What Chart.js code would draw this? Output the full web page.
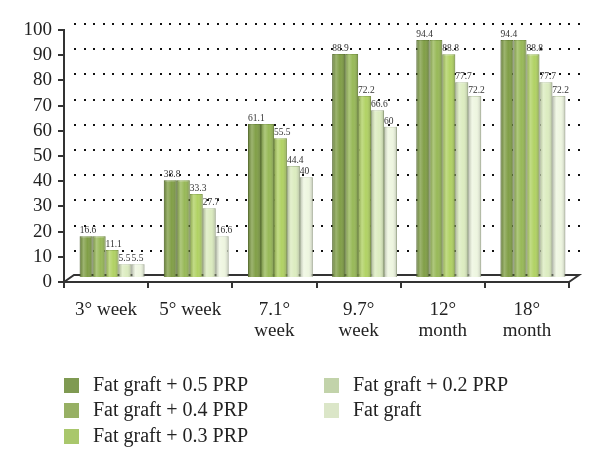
<!DOCTYPE html>
<html>
<head>
<meta charset="utf-8">
<script src="https://cdn.jsdelivr.net/npm/chart.js@4"></script>
<style>
body{margin:0;background:#fff;}
#wrap{position:relative;width:600px;height:472px;}
#legend{position:absolute;left:0;top:0;font-family:"Liberation Serif",serif;font-size:20px;color:#222;}
.item{position:absolute;white-space:nowrap;line-height:22px;}
.box{position:absolute;width:15px;height:15px;}
</style>
</head>
<body>
<div id="wrap">
<canvas id="chart" width="600" height="472"></canvas>
<div id="legend"></div>
</div>
<script>
const labels=[["3° week"],["5° week"],["7.1°","week"],["9.7°","week"],["12°","month"],["18°","month"]];
const prp05=[16.6,38.8,61.1,88.9,94.4,94.4];
const prp04=[16.6,38.8,61.1,88.9,94.4,94.4];
const prp03=[11.1,33.3,55.5,72.2,88.8,88.8];
const prp02=[5.5,27.7,44.4,66.6,77.7,77.7];
const fatGraft=[5.5,16.6,40,60,72.2,72.2];
const names=["Fat graft + 0.5 PRP","Fat graft + 0.4 PRP","Fat graft + 0.3 PRP","Fat graft + 0.2 PRP","Fat graft"];
const barColors=["#819f47","#98b958","#b1d264","#dcecc0","#eef6e0"];
const edgeColors=["#6e8a3a","#82a148","#95b553","#b7c99c","#c9d6b6"];
const legendColors=["#7f9a52","#97b064","#a9c76c","#c2d3aa","#dbe6c8"];
const showLabel=[true,false,true,true,true];
const serif='"Liberation Serif", serif';

// back wall grid, floor, 3D-ish shading of the bars and value labels
const depth={
  id:"depth",
  beforeDatasetsDraw(chart){
    const {ctx,chartArea:a,scales:{y}}=chart;
    ctx.save();
    ctx.fillStyle="#111";
    y.ticks.forEach(t=>{
      if(t.value===0)return;
      const py=Math.round(y.getPixelForValue(t.value))-7;
      for(let x=a.left+10;x<=a.right+12;x+=9.5){
        ctx.fillRect(Math.round(x),py,2,2);
      }
    });
    const y0=y.getPixelForValue(0);
    ctx.strokeStyle="#333";
    ctx.lineWidth=2;
    ctx.beginPath();
    ctx.moveTo(a.left,y0);
    ctx.lineTo(a.left+10,y0-7);
    ctx.lineTo(a.right+10,y0-7);
    ctx.lineTo(a.right,y0);
    ctx.stroke();
    ctx.restore();
    ctx.save();
    ctx.translate(6,-4);
  },
  afterDatasetsDraw(chart){
    const ctx=chart.ctx;
    const metas=chart.data.datasets.map((ds,di)=>chart.getDatasetMeta(di));
    metas.forEach(meta=>{
      meta.data.forEach(bar=>{
        const l=bar.x-bar.width/2,w=bar.width,h=bar.base-bar.y;
        const g=ctx.createLinearGradient(l,0,l+w,0);
        g.addColorStop(0,"rgba(0,0,0,0.22)");
        g.addColorStop(0.3,"rgba(255,255,255,0.22)");
        g.addColorStop(0.6,"rgba(255,255,255,0)");
        g.addColorStop(1,"rgba(0,0,0,0.22)");
        ctx.fillStyle=g;
        ctx.fillRect(l,bar.y,w,h);
      });
    });
    ctx.fillStyle="#333";
    ctx.font="9.5px "+serif;
    ctx.textAlign="left";
    ctx.textBaseline="alphabetic";
    metas.forEach((meta,di)=>{
      if(!showLabel[di])return;
      meta.data.forEach((bar,i)=>{
        ctx.fillText(String(chart.data.datasets[di].data[i]),bar.x-bar.width/2,bar.y-3);
      });
    });
    ctx.restore();
  }
};

const series=[prp05,prp04,prp03,prp02,fatGraft];
new Chart(document.getElementById("chart"),{
  type:"bar",
  data:{
    labels:labels,
    datasets:series.map((d,i)=>({
      label:names[i],
      data:d,
      backgroundColor:barColors[i],
      borderColor:edgeColors[i],
      borderWidth:1,
      categoryPercentage:0.77,
      barPercentage:1
    }))
  },
  options:{
    responsive:false,
    animation:false,
    layout:{padding:{top:30,right:31,bottom:130,left:0}},
    plugins:{legend:{display:false},tooltip:{enabled:false}},
    scales:{
      x:{
        grid:{drawOnChartArea:false,tickLength:6,color:"#333",lineWidth:2},
        border:{color:"#333",width:2},
        ticks:{font:{family:serif,size:19,lineHeight:1.1},color:"#222",padding:12,maxRotation:0,autoSkip:false},
        afterFit(s){s.height=60;}
      },
      y:{
        min:0,max:100,
        grid:{drawOnChartArea:false,tickLength:6,color:"#333",lineWidth:2},
        border:{color:"#333",width:2},
        ticks:{stepSize:10,autoSkip:false,font:{family:serif,size:19},color:"#222",padding:6},
        afterFit(s){s.width=64;}
      }
    }
  },
  plugins:[depth]
});

// two-column legend
const legend=document.getElementById("legend");
const cols=[[64,93],[64,93],[64,93],[324,353],[324,353]];
const rows=[385,410,436,385,410];
names.forEach((n,i)=>{
  const b=document.createElement("div");
  b.className="box";
  b.style.left=cols[i][0]+"px";
  b.style.top=(rows[i]-7)+"px";
  b.style.background=legendColors[i];
  legend.appendChild(b);
  const t=document.createElement("div");
  t.className="item";
  t.style.left=cols[i][1]+"px";
  t.style.top=(rows[i]-12)+"px";
  t.textContent=n;
  legend.appendChild(t);
});
</script>
</body>
</html>
